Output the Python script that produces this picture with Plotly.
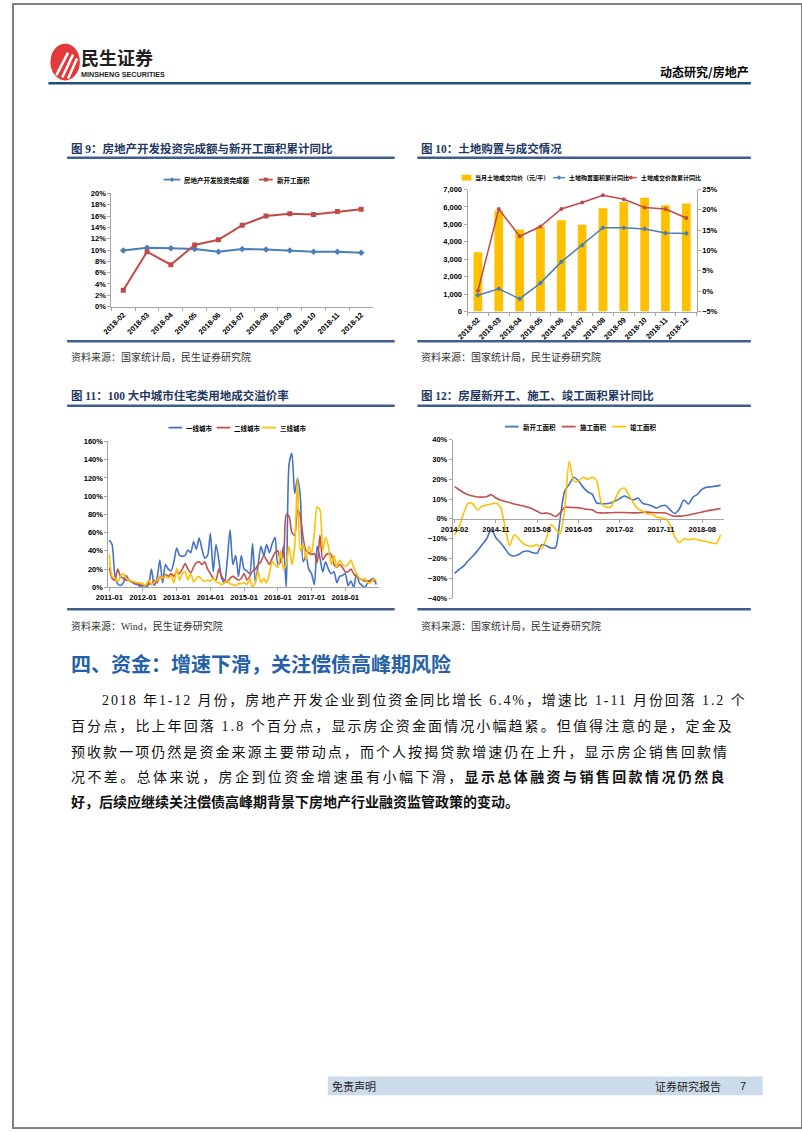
import plotly.graph_objects as go

W, H = 802, 1133


def X(p):
    return p / W


def Y(p):
    return 1 - p / H


# ---------------- data ----------------
months_2018 = ["2018-02", "2018-03", "2018-04", "2018-05", "2018-06", "2018-07",
               "2018-08", "2018-09", "2018-10", "2018-11", "2018-12"]
# Fig 9
invest_yoy = [9.9, 10.4, 10.3, 10.2, 9.7, 10.2, 10.1, 9.9, 9.7, 9.7, 9.5]
newstart_yoy = [2.9, 9.7, 7.4, 10.9, 11.8, 14.4, 16.0, 16.4, 16.3, 16.8, 17.2]
# Fig 10
land_price = [3400, 5780, 4700, 4870, 5230, 4980, 5930, 6280, 6530, 6100, 6200]
land_area_yoy = [-1.0, 0.6, -1.9, 2.0, 7.2, 11.3, 15.6, 15.6, 15.3, 14.3, 14.2]
land_value_yoy = [0.1, 20.2, 13.5, 15.9, 20.2, 21.8, 23.6, 22.6, 20.6, 20.2, 18.0]

# Fig 11 (monthly 2011-01 .. 2018-12)
months_11 = [f"{y}-{m:02d}" for y in range(2011, 2019) for m in range(1, 13)]
ticks_11 = ["2011-01", "2012-01", "2013-01", "2014-01", "2015-01", "2016-01", "2017-01", "2018-01"]
tier1 = [52, 47, 13, 4, 2, 5, 13, 8, 6, 4, 3, 1,
         0, 0, 3, 20, 2, 10, 30, 5, 25, 20, 18, 28,
         43, 35, 34, 35, 41, 38, 50, 42, 54, 42, 32, 35,
         59, 17, 47, 30, 10, 5, 30, 63, 25, 35, 12, 35,
         20, 18, 15, 48, 5, 25, 45, 35, 47, 38, 48, 55,
         25, 28, 45, 0, 135, 147, 103, 120, 100, 28, 35, 20,
         15, 3, 45, 32, 17, 28, 20, 15, 17, 5, 12, 13,
         15, 2, 7, 0, 15, 5, 2, 0, 5, 8, 10, 3]
tier2 = [22, 10, 8, 20, 12, 10, 8, 8, 6, 5, 4, 3,
         2, 2, 5, 3, 8, 5, 12, 8, 14, 12, 15, 12,
         18, 15, 20, 26, 20, 16, 22, 27, 28, 25, 28, 20,
         15, 10, 8, 20, 12, 8, 6, 10, 12, 10, 8, 10,
         15, 8, 12, 18, 20, 25, 28, 35, 30, 25, 32, 38,
         40, 30, 35, 80, 78, 60, 57, 85, 78, 55, 40, 38,
         36, 37, 27, 57, 30, 35, 37, 36, 25, 22, 25, 22,
         17, 17, 20, 15, 12, 10, 8, 7, 7, 7, 8, 5]
tier3 = [36, 12, 10, 6, 12, 15, 10, 8, 7, 6, 5, 5,
         4, 2, 8, 3, 6, 8, 12, 10, 13, 10, 13, 5,
         21, 8, 15, 17, 8, 15, 6, 10, 12, 8, 7, 8,
         7, 10, 6, 5, 3, 5, 8, 4, 3, 2, 4, 4,
         5, 3, 10, 0, 5, 18, 5, 10, 5, 15, 28, 25,
         22, 40, 20, 25, 45, 25, 45, 120, 40, 48, 30, 45,
         38, 60, 88, 85, 40, 55, 45, 25, 35, 22, 30, 25,
         23, 25, 30, 22, 15, 10, 8, 10, 5, 5, 9, 8]

# Fig 12 (monthly 2014-02 .. 2018-12)
months_12 = [f"{y}-{m:02d}" for y in range(2014, 2019) for m in range(1, 13)][1:]
ticks_12 = ["2014-02", "2014-11", "2015-08", "2016-05", "2017-02", "2017-11", "2018-08"]
new_start_area = [-27.5, -25.5, -23.7, -21.0, -18.7, -16.0, -13.0, -10.0, -5.3, -9.5,
                  -12.0, -15.0, -18.0, -18.7, -18.0, -16.5, -16.2, -17.0, -17.3, -13.0,
                  -13.5, -14.7, -14.5, 0.0, 14.0, 17.5, 21.0, 19.2, 16.0, 13.7,
                  12.5, 8.0, 7.7, 7.6, 8.0, 9.0, 10.2, 11.5, 10.5, 9.5,
                  10.5, 7.8, 7.2, 6.5, 5.5, 6.5, 6.8, 4.5, 2.7, 5.0,
                  9.5, 7.5, 11.0, 12.5, 15.0, 16.0, 16.2, 16.5, 17.0]
under_constr_area = [16.3, 14.7, 13.2, 12.2, 11.5, 11.0, 11.0, 11.2, 12.2, 10.5,
                     9.5, 8.8, 8.2, 7.5, 7.0, 6.5, 5.8, 5.0, 3.8, 2.7,
                     3.0, 2.3, 1.2, 3.0, 5.8, 5.8, 5.7, 5.6, 5.2, 4.8,
                     4.6, 3.2, 3.0, 3.0, 3.1, 3.2, 3.2, 3.2, 3.1, 3.0,
                     3.1, 3.3, 3.4, 3.2, 3.1, 3.1, 3.0, 2.0, 1.3, 1.4,
                     1.6, 2.0, 2.5, 3.0, 3.5, 4.0, 4.4, 4.8, 5.2]
completed_area = [-8.0, -4.0, 3.0, 8.0, 7.5, 4.5, 6.5, 7.0, 7.5, 8.0,
                  6.0, -4.0, -13.5, -8.0, -10.0, -12.5, -13.5, -13.8, -13.0, -15.0,
                  -10.0, -3.0, -5.0, -7.5, 5.0, 29.0, 19.0, 19.0, 21.0, 20.0,
                  21.0, 19.0, 8.0, 6.0, 6.0, 10.0, 14.5, 15.5, 12.0, 8.0,
                  5.0, 4.0, 2.5, 2.5, 1.0, 0.5, 0.0, -3.0, -9.0, -12.0,
                  -10.0, -10.5, -10.0, -10.5, -11.0, -11.5, -12.0, -12.5, -8.0]

# ---------------- styles ----------------
BLUE = "#4a7ebb"
RED = "#be4b48"
GOLD = "#ffc000"
BLUE2 = "#4472c4"
RED2 = "#c0504d"
AX = "#a6a6a6"
TICKF = dict(family="Liberation Sans, Arial", size=7.5, color="#000", weight="bold")
LEGFAM = "Noto Sans CJK SC"
NAVY = "#1f3864"
RULE = "#3e5f8a"

fig = go.Figure()

# Fig 9
fig.add_trace(go.Scatter(x=months_2018, y=invest_yoy, name="房地产开发投资完成额",
                         mode="lines+markers", line=dict(color=BLUE, width=2),
                         marker=dict(symbol="diamond", size=5, color=BLUE),
                         xaxis="x", yaxis="y"))
fig.add_trace(go.Scatter(x=months_2018, y=newstart_yoy, name="新开工面积",
                         mode="lines+markers", line=dict(color=RED, width=2),
                         marker=dict(symbol="square", size=5, color=RED),
                         xaxis="x", yaxis="y"))
# Fig 10
fig.add_trace(go.Bar(x=months_2018, y=land_price, name="当月土地成交均价（元/平）",
                     marker=dict(color=GOLD, line=dict(width=0)), width=0.42,
                     xaxis="x2", yaxis="y2"))
fig.add_trace(go.Scatter(x=months_2018, y=land_area_yoy, name="土地购置面积累计同比",
                         mode="lines+markers", line=dict(color=BLUE, width=1.5),
                         marker=dict(symbol="diamond", size=4, color=BLUE),
                         xaxis="x2", yaxis="y3"))
fig.add_trace(go.Scatter(x=months_2018, y=land_value_yoy, name="土地成交价款累计同比",
                         mode="lines+markers", line=dict(color=RED, width=1.5),
                         marker=dict(symbol="circle", size=4, color=RED),
                         xaxis="x2", yaxis="y3"))
# Fig 11
for name, vals, col in [("一线城市", tier1, BLUE2), ("二线城市", tier2, RED2),
                        ("三线城市", tier3, GOLD)]:
    fig.add_trace(go.Scatter(x=months_11, y=vals, name=name, mode="lines",
                             line=dict(color=col, width=1.6, shape="spline", smoothing=0.7),
                             xaxis="x4", yaxis="y4"))
# Fig 12
for name, vals, col in [("新开工面积", new_start_area, BLUE2),
                        ("施工面积", under_constr_area, RED2),
                        ("竣工面积", completed_area, GOLD)]:
    fig.add_trace(go.Scatter(x=months_12, y=vals, name=name, mode="lines",
                             line=dict(color=col, width=1.6, shape="spline", smoothing=0.7),
                             xaxis="x5", yaxis="y5"))

common_y = dict(showgrid=False, zeroline=False, showline=True, linecolor=AX, linewidth=1,
                ticks="outside", ticklen=3, tickcolor=AX, tickfont=TICKF)
common_x = dict(showgrid=False, zeroline=False, showline=True, linecolor=AX, linewidth=1,
                ticks="outside", ticklen=3, tickcolor=AX, tickfont=TICKF, type="category")

fig.update_layout(
    width=W, height=H, margin=dict(l=0, r=0, t=0, b=0),
    paper_bgcolor="white", plot_bgcolor="rgba(0,0,0,0)",
    showlegend=False,
    xaxis=dict(common_x, domain=[X(100), X(366)], anchor="y", range=[-0.5, 10.5],
               tickangle=-45, tickson="boundaries"),
    yaxis=dict(common_y, domain=[Y(305), Y(191)], anchor="x", range=[0, 20], dtick=2,
               ticksuffix="%"),
    xaxis2=dict(common_x, domain=[X(462), X(695)], anchor="y2", range=[-0.5, 10.5],
                tickangle=-45, tickson="boundaries"),
    yaxis2=dict(common_y, domain=[Y(310), Y(187)], anchor="x2", range=[0, 7000], dtick=1000,
                tickformat=","),
    yaxis3=dict(common_y, overlaying="y2", side="right", anchor="x2", range=[-5, 25], dtick=5,
                ticksuffix="%"),
    xaxis4=dict(common_x, domain=[X(97), X(372)], anchor="y4", range=[-0.3, 96],
                tickmode="array", tickvals=ticks_11, ticktext=ticks_11, tickangle=0),
    yaxis4=dict(common_y, domain=[Y(588), Y(441)], anchor="x4", range=[0, 160], dtick=20,
                ticksuffix="%"),
    xaxis5=dict(common_x, domain=[X(447), X(723)], anchor="free", position=Y(519),
                range=[-0.4, 58.8], tickmode="array", tickvals=ticks_12, ticktext=ticks_12,
                tickangle=0),
    yaxis5=dict(common_y, domain=[Y(599), Y(439)], anchor="x5", range=[-40, 40], dtick=10,
                ticksuffix="%"),
)

shapes = []
ann = []


def hline(x0, x1, y, color, width):
    shapes.append(dict(type="line", xref="paper", yref="paper", x0=X(x0), x1=X(x1),
                       y0=Y(y), y1=Y(y), line=dict(color=color, width=width)))


def text(x, y, s, size, color="#000", family="Noto Sans CJK SC", weight="normal",
         xanchor="left"):
    ann.append(dict(xref="paper", yref="paper", x=X(x), y=Y(y), text=s, showarrow=False,
                    xanchor=xanchor, yanchor="middle",
                    font=dict(size=size, color=color, family=family, weight=weight)))


def leg_line(x0, x1, y, color, label, marker=None, size=6.5, width=1.8):
    hline(x0, x1, y, color, width)
    xm = (x0 + x1) / 2
    if marker == "square":
        shapes.append(dict(type="rect", xref="paper", yref="paper", x0=X(xm - 2), x1=X(xm + 2),
                           y0=Y(y + 2), y1=Y(y - 2), fillcolor=color, line=dict(width=0)))
    elif marker == "diamond":
        path = (f"M {X(xm - 2.3)} {Y(y)} L {X(xm)} {Y(y - 2.3)} L {X(xm + 2.3)} {Y(y)} "
                f"L {X(xm)} {Y(y + 2.3)} Z")
        shapes.append(dict(type="path", xref="paper", yref="paper", path=path,
                           fillcolor=color, line=dict(width=0)))
    elif marker == "circle":
        shapes.append(dict(type="circle", xref="paper", yref="paper", x0=X(xm - 2), x1=X(xm + 2),
                           y0=Y(y + 2), y1=Y(y - 2), fillcolor=color, line=dict(width=0)))
    text(x1 + 2, y, "<b>" + label + "</b>", size, "#000", LEGFAM)


# page frame
shapes.append(dict(type="rect", xref="paper", yref="paper", x0=0, x1=1, y0=0, y1=1,
                   line=dict(color="#808080", width=2)))
# header
shapes.append(dict(type="circle", xref="paper", yref="paper", x0=X(38), x1=X(68),
                   y0=Y(77), y1=Y(40), fillcolor="#e23a3b", line=dict(width=0)))
for (ax0, ay0, ax1, ay1) in [(44, 72, 56, 49), (50, 74, 61, 51), (56, 75, 65, 55)]:
    shapes.append(dict(type="line", xref="paper", yref="paper", x0=X(ax0), y0=Y(ay0),
                       x1=X(ax1), y1=Y(ay1), line=dict(color="white", width=2.5)))
text(67, 53, "<b>民生证券</b>", 18, "#231f20")
text(67, 71, "<b>MINSHENG SECURITIES</b>", 7.2, "#231f20", "Liberation Sans")
text(750, 68, "<b>动态研究/房地产</b>", 12, "#000", xanchor="right")
hline(36, 750, 80, "#1f4e79", 2.5)

# chart titles & rules
TF = "Liberation Serif, Noto Sans CJK SC"
text(57, 146, "<b>图 9：房地产开发投资完成额与新开工面积累计同比</b>", 11.5, NAVY, TF)
text(413, 146, "<b>图 10：土地购置与成交情况</b>", 11.5, NAVY, TF)
text(57, 395, "<b>图 11：100 大中城市住宅类用地成交溢价率</b>", 11.5, NAVY, TF)
text(413, 395, "<b>图 12：房屋新开工、施工、竣工面积累计同比</b>", 11.5, NAVY, TF)
for yy in (155, 340, 405, 610):
    hline(55, 388, yy, RULE, 2.5)
    hline(411, 750, yy, RULE, 2.5)

# legends (drawn as key glyphs + text)
leg_line(153, 170, 177, BLUE, "房地产开发投资完成额", "diamond")
leg_line(250, 264, 177, RED, "新开工面积", "square")

shapes.append(dict(type="rect", xref="paper", yref="paper", x0=X(456), x1=X(466),
                   y0=Y(178), y1=Y(172), fillcolor=GOLD, line=dict(width=0)))
text(468, 175, "<b>当月土地成交均价（元/平）</b>", 6, "#000", LEGFAM)
leg_line(549, 561, 175, BLUE, "土地购置面积累计同比", "diamond", size=6, width=1.4)
leg_line(622, 634, 175, RED, "土地成交价款累计同比", "circle", size=6, width=1.4)

leg_line(158, 172, 427, BLUE2, "一线城市", size=6.5)
leg_line(207, 221, 427, RED2, "二线城市", size=6.5)
leg_line(253, 267, 427, GOLD, "三线城市", size=6.5)

leg_line(500, 514, 426, BLUE2, "新开工面积", size=6.5)
leg_line(558, 572, 426, RED2, "施工面积", size=6.5)
leg_line(609, 623, 426, GOLD, "竣工面积", size=6.5)

SRC = "Liberation Serif, Noto Sans CJK SC"
text(57, 356, "资料来源：国家统计局，民生证券研究院", 10, "#333", SRC)
text(413, 356, "资料来源：国家统计局，民生证券研究院", 10, "#333", SRC)
text(57, 627, "资料来源：Wind，民生证券研究院", 10, "#333", SRC)
text(413, 627, "资料来源：国家统计局，民生证券研究院", 10, "#333", SRC)

# section heading
text(57, 665, "<b>四、资金：增速下滑，关注偿债高峰期风险</b>", 20, "#2461a8")

# body
BODY = "Liberation Serif, Noto Sans CJK SC"
lines = [
    (88, 702, 1.9, "2018 年1-12 月份，房地产开发企业到位资金同比增长 6.4%，增速比 1-11 月份回落 1.2 个"),
    (57, 728, 2.1, "百分点，比上年回落 1.8 个百分点，显示房企资金面情况小幅趋紧。但值得注意的是，定金及"),
    (57, 754, 2.05, "预收款一项仍然是资金来源主要带动点，而个人按揭贷款增速仍在上升，显示房企销售回款情"),
    (57, 779, 2.4, "况不差。总体来说，房企到位资金增速虽有小幅下滑，<b>显示总体融资与销售回款情况仍然良</b>"),
    (57, 804, 0, "<b>好，后续应继续关注偿债高峰期背景下房地产行业融资监管政策的变动。</b>"),
]
for (lx, ly, sp, s) in lines:
    if sp:
        s = f'<span style="letter-spacing:{sp}px">' + s + "</span>"
    text(lx, ly, s, 14, "#111", BODY)

# footer
shapes.append(dict(type="rect", xref="paper", yref="paper", x0=X(320), x1=X(762),
                   y0=Y(1100), y1=Y(1081), fillcolor="#ccdbea", line=dict(width=0)))
text(322, 1091, "免责声明", 11, "#222")
text(651, 1091, "证券研究报告", 11, "#222")
text(737, 1091, "7", 11, "#222", "Liberation Sans")

fig.update_layout(shapes=shapes, annotations=ann)
fig.write_html("out.html", config={"displayModeBar": False},
               post_script="document.body.style.margin='0px';document.body.style.overflow='hidden';")
